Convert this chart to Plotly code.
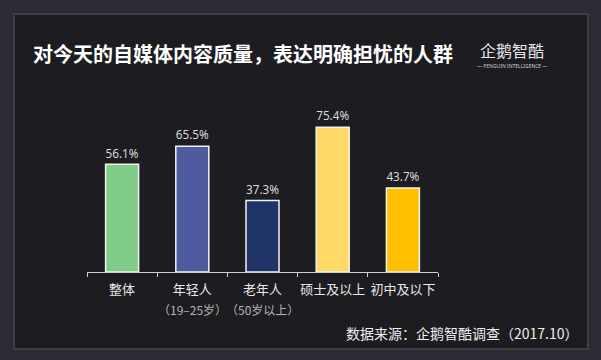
import plotly.graph_objects as go

categories = ["整体", "年轻人", "老年人", "硕士及以上", "初中及以下"]
sub_labels = ["", "（19–25岁）", "（50岁以上）", "", ""]
values = [56.1, 65.5, 37.3, 75.4, 43.7]
colors = ["#80cc88", "#4d5b9f", "#1f3568", "#ffd966", "#ffc000"]

W, H = 601, 360
L, R, T, B = 87, 163, 80, 88
PW, PH = W - L - R, H - T - B

def px(x):
    return (x - L) / PW

def py(y):
    return 1 - (y - T) / PH

fig = go.Figure()
fig.add_trace(go.Bar(
    x=categories, y=values,
    marker=dict(color=colors, line=dict(color="#f2f2f2", width=1.5)),
    width=0.47,
    text=[f"{v:.1f}%" for v in values],
    textposition="outside",
    textfont=dict(color="#dadada", size=15.5, family="Noto Sans, sans-serif"),
    cliponaxis=False,
    hoverinfo="skip",
))

annotations = [
    dict(text="<b>对今天的自媒体内容质量，表达明确担忧的人群</b>",
         xref="paper", yref="paper", x=px(31), y=py(54),
         xanchor="left", yanchor="middle", showarrow=False,
         font=dict(size=20, color="#ffffff", family="Noto Sans CJK SC")),
    dict(text="企鹅智酷",
         xref="paper", yref="paper", x=px(512), y=py(50),
         xanchor="center", yanchor="middle", showarrow=False,
         font=dict(size=16, color="#e8e8e8", family="Noto Sans CJK SC")),
    dict(text="— PENGUIN INTELLIGENCE —",
         xref="paper", yref="paper", x=px(512), y=py(65.5),
         xanchor="center", yanchor="middle", showarrow=False,
         font=dict(size=5, color="#cfcfcf", family="Noto Sans")),
    dict(text="数据来源：企鹅智酷调查（2017.10）",
         xref="paper", yref="paper", x=px(581), y=py(333),
         xanchor="right", yanchor="middle", showarrow=False,
         font=dict(size=14, color="#eeeeee", family="Noto Sans CJK SC")),
]
for c, s in zip(categories, sub_labels):
    if s:
        annotations.append(dict(
            text=s, xref="x", yref="paper", x=c, y=py(309),
            xanchor="center", yanchor="middle", showarrow=False,
            font=dict(size=12, color="#b4b4b4", family="Noto Sans CJK SC")))

fig.update_layout(
    width=W, height=H,
    margin=dict(l=L, r=R, t=T, b=B, autoexpand=False),
    paper_bgcolor="#2b2c35",
    plot_bgcolor="rgba(0,0,0,0)",
    showlegend=False,
    font=dict(family="Noto Sans CJK SC, sans-serif", color="#e8e8e8"),
    xaxis=dict(
        tickmode="array", tickvals=categories, ticktext=categories,
        tickangle=0, automargin=False, ticklabelstandoff=5,
        tickfont=dict(size=13, color="#e8e8e8", family="Noto Sans CJK SC"),
        showline=True, linecolor="#cfcfcf", linewidth=1,
        ticks="outside", tickson="boundaries", ticklen=4, tickcolor="#cfcfcf",
        showgrid=False, zeroline=False,
    ),
    yaxis=dict(range=[0, 100], visible=False, showgrid=False, zeroline=False,
               automargin=False),
    shapes=[
        dict(type="rect", xref="paper", yref="paper",
             x0=px(14), x1=px(588), y0=py(349), y1=py(14),
             fillcolor="#1c1c21", line=dict(color="#3e3f46", width=2), layer="below"),
    ],
    annotations=annotations,
)

fig.write_html(
    "out.html",
    config={"displayModeBar": False},
    post_script="document.body.style.margin='0';document.body.style.background='#2b2c35';",
)
